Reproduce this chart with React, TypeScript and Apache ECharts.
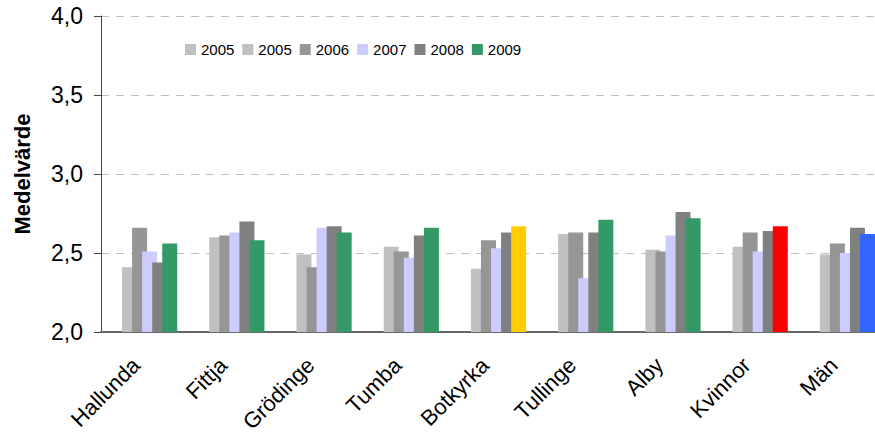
import React, { useEffect, useRef } from "react";
import * as echarts from "echarts";

const categories = ["Hallunda", "Fittja", "Grödinge", "Tumba", "Botkyrka", "Tullinge", "Alby", "Kvinnor", "Män"];
const seriesNames = ["2005", "2005 ", "2006", "2007", "2008", "2009"];
const s2005a: (number | null)[] = [null, null, null, null, null, null, null, null, null];
const s2005b = [2.41, 2.60, 2.49, 2.54, 2.40, 2.62, 2.52, 2.54, 2.49];
const s2006 = [2.66, 2.61, 2.41, 2.51, 2.58, 2.63, 2.51, 2.63, 2.56];
const s2007 = [2.51, 2.63, 2.66, 2.47, 2.53, 2.34, 2.61, 2.51, 2.50];
const s2008 = [2.44, 2.70, 2.67, 2.61, 2.63, 2.63, 2.76, 2.64, 2.66];
const s2009 = [2.56, 2.58, 2.63, 2.66, 2.67, 2.71, 2.72, 2.67, 2.62];
const seriesColors = ["#C0C0C0", "#C0C0C0", "#969696", "#CCCCFF", "#808080", "#339966"];
const highlightColors: Record<string, string> = { Botkyrka: "#FFCC00", Kvinnor: "#FF0000", "Män": "#3366FF" };
const yTicks = [2.0, 2.5, 3.0, 3.5, 4.0];

const FONT = "'Liberation Sans', Arial, Helvetica, sans-serif";

export default function App() {
  const ref = useRef<HTMLDivElement>(null);
  useEffect(() => {
    if (!ref.current) return;
    const chart = echarts.init(ref.current, undefined, { renderer: "svg" });
    const allData = [s2005a, s2005b, s2006, s2007, s2008, s2009];
    const series = allData.map((arr, i) => ({
      name: seriesNames[i],
      type: "bar",
      barWidth: 15,
      barGap: "-33%",
      itemStyle: { color: seriesColors[i] },
      data: arr.map((v, j) =>
        i === 5 && highlightColors[categories[j]]
          ? { value: v, itemStyle: { color: highlightColors[categories[j]] } }
          : v
      ),
    }));
    chart.setOption({
      animation: false,
      textStyle: { fontFamily: FONT },
      legend: {
        left: 180,
        top: 37,
        itemWidth: 11,
        itemHeight: 11,
        itemGap: 8,
        icon: "rect",
        formatter: (n: string) => n.trim(),
        textStyle: { fontSize: 15, color: "#000", fontFamily: FONT },
        data: seriesNames.map((n, i) => ({ name: n, itemStyle: { color: seriesColors[i] } })),
      },
      grid: { left: 101, top: 16, width: 785, height: 316, containLabel: false, outerBoundsMode: "none" },
      xAxis: {
        type: "category",
        data: categories,
        axisTick: { show: false },
        axisLine: { lineStyle: { color: "#666", width: 2 } },
        axisLabel: {
          rotate: 45,
          fontSize: 22,
          color: "#000",
          interval: 0,
          margin: 21,
          verticalAlign: "middle",
          padding: [0, 12, 0, 0],
          fontFamily: FONT,
        },
      },
      yAxis: {
        type: "value",
        min: yTicks[0],
        max: yTicks[yTicks.length - 1],
        interval: 0.5,
        name: "Medelvärde",
        nameLocation: "middle",
        nameGap: 68,
        nameRotate: 90,
        nameTextStyle: { fontSize: 22, fontWeight: "bold", color: "#000", fontFamily: FONT },
        axisLine: { show: true, lineStyle: { color: "#444", width: 1 } },
        axisTick: { show: true, length: 7, lineStyle: { color: "#444" } },
        axisLabel: {
          fontSize: 23,
          color: "#000",
          margin: 18,
          fontFamily: FONT,
          formatter: (v: number) => v.toFixed(1).replace(".", ","),
        },
        splitLine: { show: true, lineStyle: { color: "#BFBFBF", type: [8, 7], width: 1 } },
      },
      series,
    });
    return () => chart.dispose();
  }, []);
  return (
    <div
      ref={ref}
      style={{ position: "fixed", left: 0, top: 0, width: 875, height: 435, background: "#fff" }}
    />
  );
}
